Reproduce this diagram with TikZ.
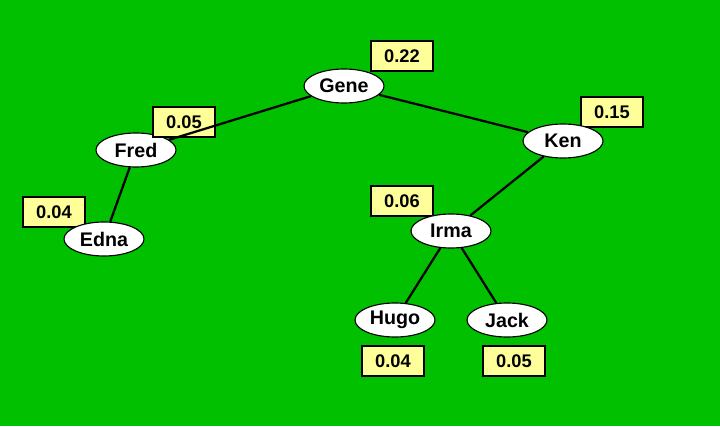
\documentclass[tikz,border=0pt]{standalone}
\usepackage{fontspec}
\setmainfont{Liberation Sans}
\usetikzlibrary{shapes.geometric}
\definecolor{bggreen}{RGB}{0,192,0}
\definecolor{boxyellow}{RGB}{255,255,153}
\tikzset{
  /tikz/.cd,
  person/.style={ellipse,draw,fill=white,line width=0.8pt,inner sep=1pt,minimum width=2cm,minimum height=0.85cm,font=\fontsize{14}{16}\selectfont\bfseries},
  weight/.style={draw,fill=boxyellow,line width=0.8pt,minimum width=1.55cm,minimum height=0.75cm,font=\fontsize{13}{15}\selectfont\bfseries}
}

\begin{document}
\begin{tikzpicture}[x=0.025cm,y=-0.025cm,
                    link/.style={line width=1.6pt}]
      \fill[bggreen] (0,0) rectangle (720,426);
      \useasboundingbox (0,0) rectangle (720,426);

      \node[weight] (wgene) at (402,56) {0.22};
      \node[weight] (wedna) at (54,212) {0.04};
      \node[weight] (wken) at (612,112) {0.15};
      \node[weight] (wirma) at (402,201) {0.06};
      \node[weight] (whugo) at (393,361) {0.04};
      \node[weight] (wjack) at (514,361) {0.05};

      \node[person] (gene) at (344,86) {Gene};
      \node[person] (fred) at (136,150) {Fred};
      \node[person] (edna) at (104,239) {Edna};
      \node[person] (ken) at (563,141) {Ken};
      \node[person] (irma) at (451,231) {Irma};
      \node[person] (hugo) at (395,320) {Hugo};
      \node[person] (jack) at (507,320) {Jack};

      \node[weight] (wfred) at (184,122) {0.05};

      \begin{scope}[on background layer/.try]
      \end{scope}
      \draw[link] (gene) -- (fred);
      \draw[link] (gene) -- (ken);
      \draw[link] (fred) -- (edna);
      \draw[link] (ken) -- (irma);
      \draw[link] (irma) -- (hugo);
      \draw[link] (irma) -- (jack);
\end{tikzpicture}
\end{document}
